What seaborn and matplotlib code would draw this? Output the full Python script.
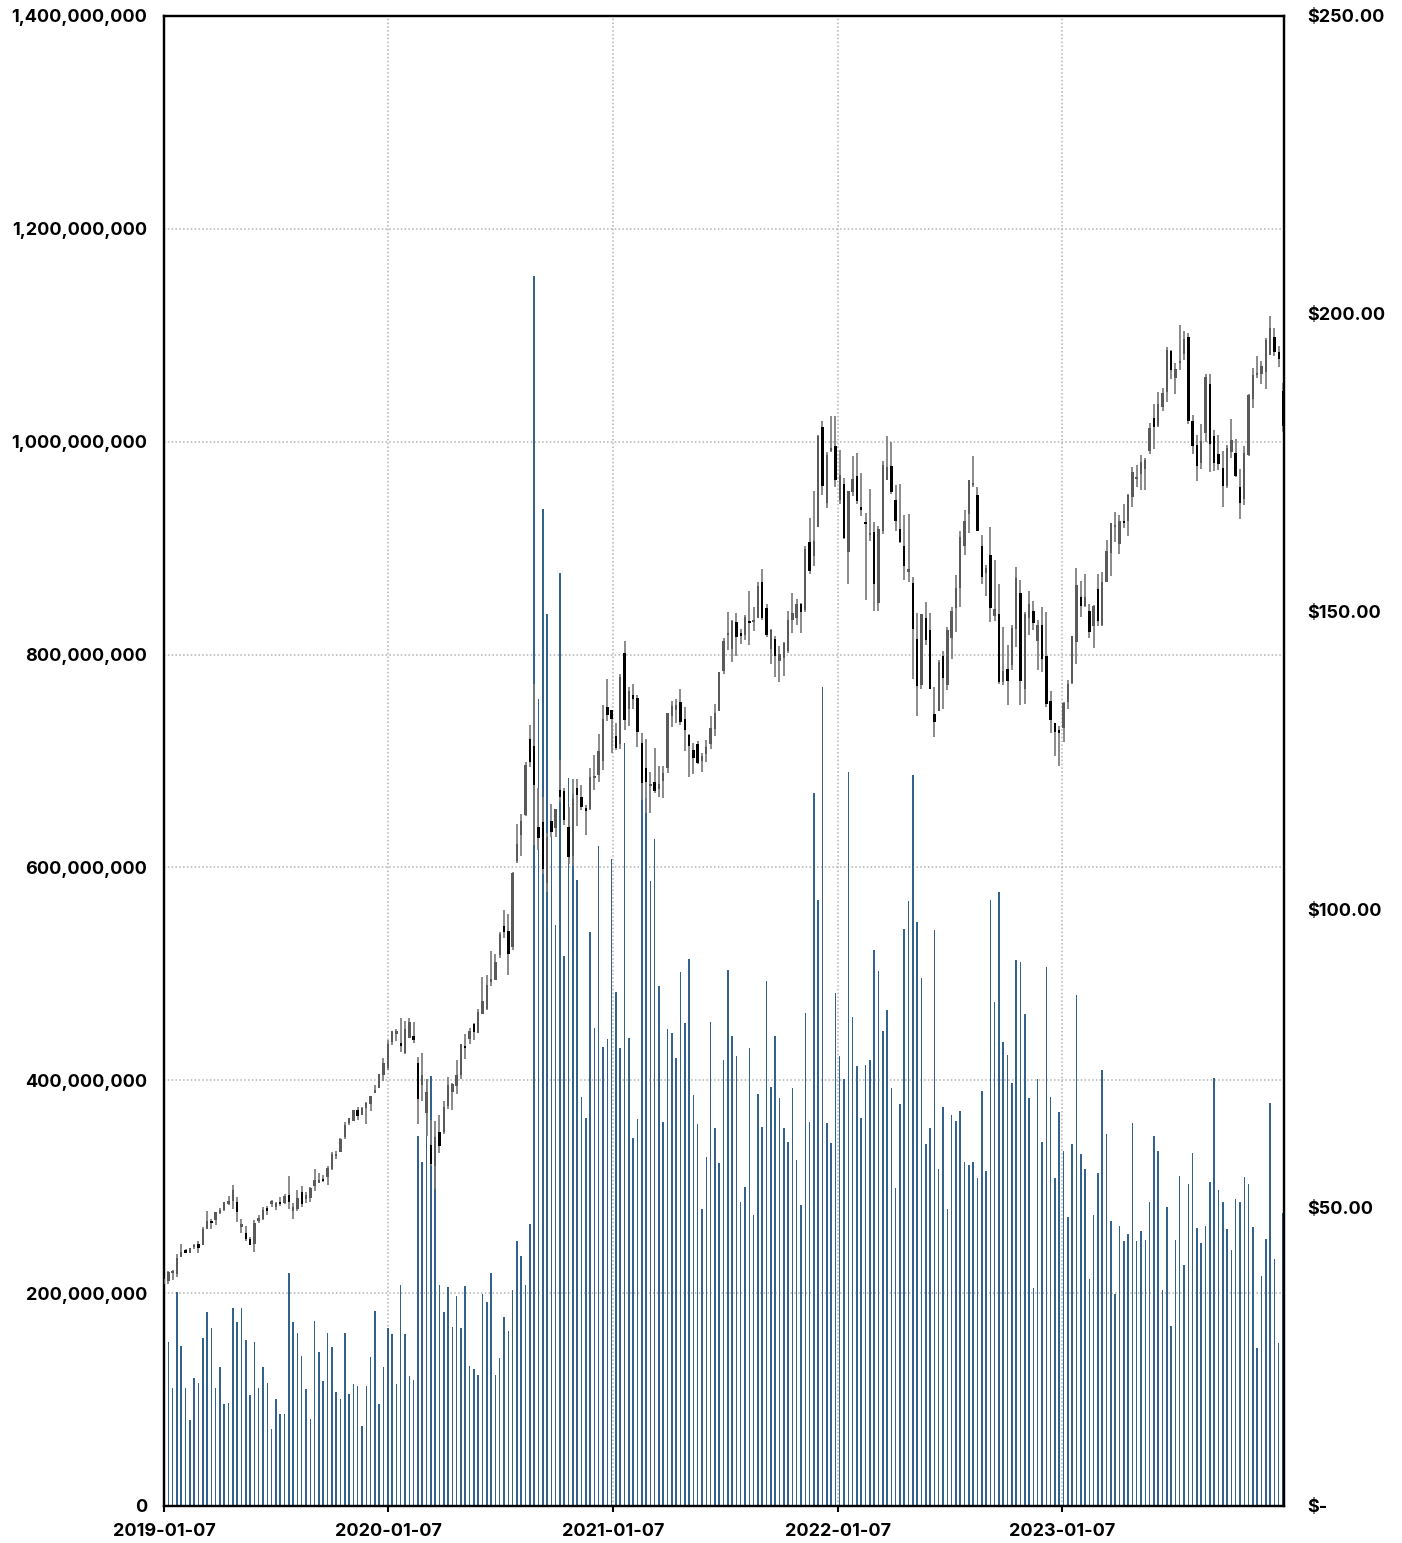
import numpy as np
import pandas as pd
import matplotlib
matplotlib.use("Agg")
import matplotlib.pyplot as plt
import matplotlib.dates as mdates
from matplotlib.ticker import FuncFormatter, FixedLocator
import seaborn as sns

# ---------------- data (weekly, starting 2019-01-07) ----------------
week_start = "2019-01-07"

open_2019 = [37.17, 37.71, 39.10, 38.95, 41.85, 42.76, 42.43, 43.54, 43.92, 43.87, 46.45, 47.88, 47.91, 49.10, 49.65, 50.71, 51.10, 51.07, 46.93, 45.88, 44.73, 43.90, 47.95, 48.23, 49.92, 50.79, 50.20, 51.02, 50.91, 52.19, 49.50, 49.90, 52.65, 51.47, 51.61, 53.71, 54.43, 54.74, 55.23, 56.57, 58.73, 59.38, 61.86, 64.33, 64.58, 66.45, 65.68, 66.82, 67.50, 69.25, 70.13, 72.36]
high_2019 = [38.63, 39.41, 39.53, 42.25, 43.89, 43.12, 43.33, 43.97, 44.44, 46.83, 49.42, 48.22, 49.27, 50.03, 51.04, 51.94, 53.83, 51.85, 48.12, 47.00, 45.15, 48.00, 48.84, 50.21, 50.39, 51.27, 51.00, 51.88, 52.43, 55.34, 50.88, 53.04, 53.61, 52.61, 53.60, 56.60, 55.94, 55.62, 57.06, 59.41, 59.53, 61.68, 64.46, 65.08, 66.45, 67.00, 66.90, 67.75, 68.83, 70.66, 72.50, 75.15]
low_2019 = [36.48, 37.31, 37.92, 38.42, 41.82, 42.38, 42.37, 43.06, 42.38, 43.87, 46.45, 46.50, 47.10, 49.05, 49.50, 50.52, 49.77, 47.65, 45.75, 44.45, 43.75, 42.57, 47.50, 48.04, 48.81, 50.16, 49.60, 50.37, 50.70, 49.90, 48.15, 49.56, 50.25, 50.83, 51.06, 52.77, 54.37, 54.29, 53.78, 56.36, 58.30, 59.33, 61.59, 63.90, 64.57, 64.74, 65.63, 64.07, 66.23, 69.25, 70.09, 71.31]
close_2019 = [38.07, 39.21, 39.44, 41.63, 42.60, 42.61, 43.24, 43.74, 43.23, 46.53, 47.76, 47.49, 49.25, 49.72, 50.97, 51.08, 52.94, 49.30, 47.25, 44.74, 43.77, 47.54, 48.19, 49.70, 49.48, 51.06, 50.83, 50.65, 51.94, 51.01, 50.25, 51.63, 50.66, 52.19, 53.32, 54.69, 54.43, 54.70, 56.75, 59.05, 59.10, 61.65, 63.96, 65.03, 66.44, 65.45, 66.81, 67.68, 68.79, 69.86, 72.45, 74.36]

open_2020 = [73.45, 77.91, 79.30, 77.52, 76.08, 78.54, 78.84, 74.32, 70.57, 65.94, 60.49, 57.02, 62.69, 62.69, 67.08, 69.49, 70.45, 72.29, 77.03, 78.29, 80.88, 79.44, 82.56, 83.31, 87.84, 88.31, 92.50, 97.26, 96.42, 93.71, 108.20, 112.60, 115.98, 128.70, 127.58, 113.95, 114.72, 104.54, 115.01, 113.70, 120.06, 119.96, 114.01, 109.11, 120.50, 118.92, 117.18, 116.97, 122.31, 122.60, 125.02, 133.99]
high_2020 = [78.17, 79.68, 80.00, 81.96, 81.30, 81.80, 81.16, 75.36, 76.00, 71.61, 64.77, 64.67, 65.62, 67.93, 72.06, 71.00, 74.75, 77.60, 79.26, 80.22, 81.06, 83.40, 88.69, 89.14, 93.10, 92.62, 96.32, 99.96, 99.25, 106.42, 114.42, 116.04, 124.87, 131.00, 137.98, 120.50, 119.03, 112.86, 117.72, 117.00, 125.18, 120.42, 117.28, 121.99, 121.99, 120.99, 117.62, 123.78, 125.95, 129.58, 134.41, 138.79]
low_2020 = [73.19, 77.39, 78.00, 76.22, 75.80, 78.46, 77.63, 64.09, 67.96, 62.00, 57.00, 53.15, 59.22, 62.35, 66.58, 66.36, 69.20, 71.58, 75.05, 77.58, 78.27, 79.30, 83.14, 83.14, 87.25, 88.25, 92.01, 95.26, 89.14, 93.25, 107.89, 109.10, 115.73, 123.94, 110.89, 110.00, 106.09, 103.10, 112.22, 112.25, 118.15, 114.28, 107.72, 107.32, 114.13, 116.81, 112.59, 116.81, 120.15, 121.54, 123.45, 131.72]
close_2020 = [77.58, 79.68, 79.58, 77.38, 80.01, 81.24, 78.26, 68.34, 72.26, 69.49, 57.31, 61.94, 60.35, 66.99, 70.70, 70.74, 72.27, 77.53, 76.93, 79.72, 79.49, 82.88, 84.70, 87.43, 88.41, 91.20, 95.92, 96.33, 92.62, 106.26, 111.11, 115.01, 124.37, 124.81, 120.96, 112.00, 106.84, 112.28, 113.02, 116.97, 119.02, 115.04, 108.86, 118.69, 119.26, 117.34, 116.59, 122.25, 122.41, 126.66, 131.97, 132.69]

open_2021 = [133.52, 129.19, 127.78, 143.07, 133.75, 136.03, 135.49, 128.01, 123.75, 120.93, 121.41, 120.33, 121.65, 123.87, 132.52, 133.51, 134.83, 132.04, 129.41, 126.82, 127.82, 125.08, 126.17, 127.82, 130.30, 133.41, 140.07, 146.21, 143.75, 148.27, 146.36, 146.20, 148.54, 148.31, 149.00, 154.97, 150.63, 143.80, 145.47, 141.76, 142.27, 143.45, 148.68, 148.99, 151.41, 150.37, 161.68, 159.37, 164.29, 181.12, 168.28, 177.09]
high_2021 = [133.61, 131.45, 139.67, 145.09, 137.42, 137.88, 136.01, 129.72, 128.72, 123.21, 127.22, 124.24, 124.18, 133.04, 135.00, 135.47, 137.07, 134.07, 129.54, 128.00, 128.32, 126.35, 128.46, 132.55, 134.64, 140.00, 145.65, 150.00, 148.72, 149.83, 147.11, 149.44, 153.49, 150.86, 154.98, 157.26, 151.42, 147.08, 145.96, 144.22, 144.90, 150.18, 153.17, 152.20, 151.57, 161.02, 165.70, 170.30, 179.63, 182.13, 176.85, 182.88]
low_2021 = [126.38, 126.86, 126.94, 130.21, 130.93, 133.69, 127.41, 118.39, 116.21, 116.21, 119.68, 118.92, 118.86, 123.07, 130.63, 131.30, 131.07, 126.70, 122.25, 122.77, 124.55, 123.13, 124.83, 127.07, 129.21, 133.35, 139.60, 143.63, 141.67, 142.54, 144.63, 145.30, 144.50, 146.83, 149.00, 148.70, 145.76, 141.27, 139.11, 138.27, 139.20, 143.16, 146.41, 147.80, 146.48, 150.06, 156.36, 157.80, 164.28, 169.69, 167.46, 176.80]
close_2021 = [132.05, 127.14, 139.07, 131.96, 136.76, 135.37, 129.87, 121.26, 121.42, 121.03, 119.99, 121.21, 123.00, 133.00, 134.16, 134.32, 131.46, 130.21, 127.45, 125.43, 124.61, 125.89, 127.35, 130.46, 133.11, 139.96, 145.11, 146.39, 148.56, 145.86, 146.14, 149.10, 148.19, 148.60, 154.30, 148.97, 146.06, 146.92, 142.65, 142.90, 144.84, 148.69, 149.80, 151.28, 149.99, 160.55, 156.81, 161.84, 179.45, 171.14, 176.28, 177.57]

open_2022 = [177.83, 168.71, 171.51, 160.02, 170.16, 172.86, 167.37, 164.98, 163.06, 163.36, 151.45, 163.51, 172.17, 174.57, 168.71, 163.92, 161.12, 156.71, 154.93, 145.55, 137.79, 149.07, 147.03, 132.87, 133.42, 142.70, 137.77, 145.67, 150.74, 154.01, 161.01, 166.37, 171.52, 169.69, 161.15, 156.47, 159.59, 149.31, 149.66, 138.21, 140.42, 141.07, 147.19, 153.16, 137.11, 148.97, 150.16, 145.14, 147.77, 142.70, 135.11, 131.38]
high_2022 = [182.94, 177.18, 172.54, 170.35, 176.24, 176.65, 173.34, 166.69, 170.70, 165.02, 164.48, 175.28, 179.61, 178.49, 171.27, 171.53, 166.20, 166.48, 155.83, 149.77, 149.68, 151.74, 149.87, 137.34, 141.91, 143.49, 147.55, 150.86, 156.28, 163.63, 167.19, 172.17, 176.15, 171.05, 162.90, 157.82, 164.26, 158.74, 154.72, 147.54, 144.52, 147.85, 157.50, 155.45, 150.01, 153.59, 151.83, 148.72, 150.92, 149.97, 136.81, 131.41]
low_2022 = [171.03, 168.17, 162.30, 154.70, 169.51, 168.04, 166.19, 152.00, 161.97, 150.10, 150.10, 163.01, 172.17, 169.85, 163.62, 161.50, 155.38, 154.95, 138.80, 132.61, 137.14, 144.46, 137.06, 129.04, 133.32, 133.77, 136.93, 142.12, 146.70, 150.80, 159.63, 163.25, 170.91, 163.56, 154.67, 152.68, 148.37, 148.56, 138.00, 137.69, 134.37, 140.27, 144.13, 134.38, 134.59, 146.15, 146.94, 140.35, 140.00, 134.12, 129.64, 125.87]
close_2022 = [172.17, 173.07, 162.41, 170.33, 172.39, 168.64, 167.30, 164.85, 163.17, 154.73, 163.98, 174.72, 174.31, 170.09, 165.29, 161.79, 157.65, 157.28, 147.11, 137.59, 149.64, 145.38, 137.13, 131.56, 141.66, 138.93, 147.04, 150.17, 154.09, 162.51, 165.35, 172.10, 171.52, 163.62, 155.81, 157.37, 150.70, 150.43, 138.20, 140.09, 138.38, 147.27, 155.74, 138.38, 149.70, 151.29, 148.11, 147.81, 142.16, 134.51, 131.86, 129.93]

open_2023 = [130.28, 130.47, 134.83, 138.12, 144.96, 152.57, 150.95, 150.20, 147.71, 153.79, 147.81, 155.07, 159.94, 164.27, 161.42, 165.09, 165.19, 169.28, 172.48, 173.16, 173.98, 176.96, 182.63, 181.27, 184.41, 186.83, 193.78, 189.26, 191.90, 193.33, 196.06, 182.13, 177.97, 175.07, 180.09, 188.28, 179.49, 176.48, 174.20, 171.22, 176.81, 176.75, 170.91, 169.02, 176.38, 185.82, 189.89, 189.92, 190.26, 193.11, 196.09, 193.61, 187.15]
high_2023 = [130.90, 134.92, 138.61, 146.00, 157.38, 155.23, 156.33, 151.30, 151.11, 156.30, 156.74, 162.14, 165.00, 166.84, 166.32, 168.16, 169.85, 174.30, 174.59, 176.39, 175.77, 181.78, 184.95, 186.99, 187.56, 194.48, 193.88, 191.70, 198.23, 197.20, 196.73, 183.13, 179.69, 181.55, 189.92, 189.98, 180.47, 179.70, 176.97, 177.99, 182.34, 179.08, 174.00, 177.78, 186.57, 190.96, 192.93, 192.09, 195.99, 199.62, 197.68, 194.66, 188.44]
low_2023 = [124.17, 128.12, 133.77, 137.90, 141.32, 149.22, 150.85, 145.72, 143.90, 147.61, 147.70, 155.00, 155.98, 161.80, 159.78, 164.03, 162.80, 167.54, 171.00, 170.42, 170.52, 176.57, 177.35, 180.97, 183.67, 185.23, 189.11, 186.60, 190.54, 192.26, 181.50, 176.55, 171.96, 174.00, 178.55, 173.54, 173.58, 173.86, 167.62, 170.82, 175.80, 172.64, 165.67, 167.90, 176.21, 184.21, 189.25, 188.19, 187.45, 193.07, 192.97, 191.09, 180.17]
close_2023 = [129.62, 134.76, 137.87, 145.93, 154.50, 151.01, 152.55, 146.71, 151.03, 148.50, 155.00, 160.25, 164.90, 164.66, 165.21, 165.02, 169.68, 173.57, 172.57, 175.16, 175.43, 180.95, 180.96, 184.92, 186.68, 193.97, 190.68, 190.69, 191.94, 195.83, 181.99, 177.79, 174.49, 178.61, 189.46, 178.18, 175.01, 174.79, 171.21, 177.49, 178.85, 172.88, 168.22, 176.65, 186.40, 189.69, 189.97, 191.24, 195.71, 197.57, 193.60, 192.53, 181.18]

# weekly volume, millions of shares
volume_m = [
    203, 154, 111, 201, 150, 111, 81, 120, 116, 158,
    182, 167, 111, 131, 96, 97, 186, 173, 186, 156,
    104, 154, 111, 131, 116, 72, 101, 86, 86, 219,
    173, 163, 141, 110, 82, 174, 145, 117, 163, 149,
    107, 101, 163, 105, 115, 113, 75, 113, 140, 183,
    96, 131, 167, 162, 115, 208, 162, 122, 118, 348,
    323, 401, 404, 340, 208, 182, 206, 168, 197, 167,
    207, 132, 129, 123, 199, 192, 219, 123, 139, 178,
    164, 203, 249, 235, 208, 265, 1156, 758, 937, 838,
    630, 546, 877, 517, 684, 669, 588, 384, 365, 539,
    449, 620, 431, 439, 608, 483, 430, 717, 440, 346,
    364, 690, 665, 587, 627, 489, 361, 448, 444, 421,
    502, 454, 514, 386, 359, 279, 328, 455, 355, 322,
    419, 504, 442, 423, 286, 300, 430, 273, 387, 356,
    493, 394, 442, 383, 355, 342, 393, 325, 283, 463,
    361, 670, 569, 770, 360, 341, 482, 423, 401, 690,
    459, 413, 365, 414, 419, 522, 503, 446, 466, 393,
    299, 378, 542, 568, 687, 549, 496, 340, 355, 541,
    317, 375, 279, 367, 362, 371, 323, 320, 323, 308,
    390, 315, 569, 474, 577, 436, 424, 397, 513, 511,
    462, 383, 205, 401, 342, 506, 384, 308, 370, 334,
    272, 340, 480, 331, 317, 213, 273, 313, 410, 350,
    268, 199, 263, 249, 256, 360, 249, 258, 250, 286,
    348, 334, 203, 281, 169, 250, 310, 226, 303, 332,
    261, 247, 263, 304, 402, 297, 286, 260, 241, 288,
    286, 309, 303, 262, 148, 216, 251, 379, 232, 153,
    275,
]

year_tick_labels = ["2019-01-07", "2020-01-07", "2021-01-07", "2022-01-07", "2023-01-07"]
vol_ticks = [0, 200e6, 400e6, 600e6, 800e6, 1000e6, 1200e6, 1400e6]
price_ticks = [0, 50, 100, 150, 200, 250]

# ---------------- assemble ----------------
opens = np.array(open_2019 + open_2020 + open_2021 + open_2022 + open_2023)
highs = np.array(high_2019 + high_2020 + high_2021 + high_2022 + high_2023)
lows = np.array(low_2019 + low_2020 + low_2021 + low_2022 + low_2023)
closes = np.array(close_2019 + close_2020 + close_2021 + close_2022 + close_2023)
n = len(opens)
assert len(highs) == n and len(lows) == n and len(closes) == n and len(volume_m) == n, (
    n, len(highs), len(lows), len(closes), len(volume_m))

dates = pd.date_range(week_start, periods=n, freq="7D")
xnum = mdates.date2num(dates)
df = pd.DataFrame({"x": xnum, "volume": np.array(volume_m, dtype=float) * 1e6,
                   "open": opens, "high": highs, "low": lows, "close": closes})

# ---------------- style ----------------
sns.set_theme(style="white")
plt.rcParams["font.family"] = ["Inter", "DejaVu Sans"]
plt.rcParams["font.weight"] = "bold"

VOL_COLOR = "#33628c"
UP_BODY = "#5a5a5a"
DOWN_BODY = "#000000"
WICK = "#7c7c7c"
GRID = "#b3b3b3"

W_PX, H_PX = 1402, 1543
fig = plt.figure(figsize=(W_PX / 100, H_PX / 100), dpi=100)
ax = fig.add_axes([164 / W_PX, 1 - 1506 / H_PX, (1284 - 164) / W_PX, (1506 - 16) / H_PX])

sns.histplot(data=df, x="x", weights="volume", binwidth=7.0,
             binrange=(xnum[0] - 3.5, xnum[-1] + 3.5), shrink=0.36,
             color=VOL_COLOR, alpha=1.0, linewidth=0, ax=ax)
ax.set_xlabel("")
ax.set_ylabel("")
ax.set_ylim(0, 1.4e9)
ax.set_axisbelow(True)

ax2 = ax.twinx()
up = (df["close"] >= df["open"]).to_numpy()
ax2.vlines(df["x"], df["low"], df["high"], colors=WICK, linewidth=1.25, zorder=2)
body_h = np.maximum((df["close"] - df["open"]).abs().to_numpy(), 0.4)
mid = ((df["close"] + df["open"]) / 2).to_numpy()
ax2.bar(df["x"], body_h, bottom=mid - body_h / 2, width=3.9,
        color=np.where(up, UP_BODY, DOWN_BODY), linewidth=0, zorder=3)
ax2.set_ylim(0, 250)

ax.set_xlim(xnum[0], xnum[-1] + 1.6)

# ticks and labels
tick_pos = mdates.date2num(pd.to_datetime(year_tick_labels))
ax.xaxis.set_major_locator(FixedLocator(tick_pos))
ax.set_xticklabels(year_tick_labels)
ax.yaxis.set_major_locator(FixedLocator(vol_ticks))
ax.yaxis.set_major_formatter(FuncFormatter(lambda v, p: f"{v:,.0f}"))
ax2.yaxis.set_major_locator(FixedLocator(price_ticks))
ax2.yaxis.set_major_formatter(FuncFormatter(lambda v, p: "$-" if v == 0 else f"${v:,.2f}"))

ax.grid(True, axis="both", linestyle=(0, (1, 1.5)), color=GRID, linewidth=1.1)
ax2.grid(False)

ax.tick_params(axis="y", left=False, length=0, pad=12, labelsize=13)
ax2.tick_params(axis="y", right=False, length=0, pad=17, labelsize=13)
ax.tick_params(axis="x", bottom=True, length=4, width=1.5, color="black",
               direction="out", pad=8, labelsize=13)
for lbl in ax.get_xticklabels() + ax.get_yticklabels() + ax2.get_yticklabels():
    lbl.set_fontweight("bold")
    lbl.set_color("black")

for a in (ax, ax2):
    for s in a.spines.values():
        s.set_visible(True)
        s.set_color("black")
        s.set_linewidth(1.6)

fig.savefig("out.png", dpi=100)
